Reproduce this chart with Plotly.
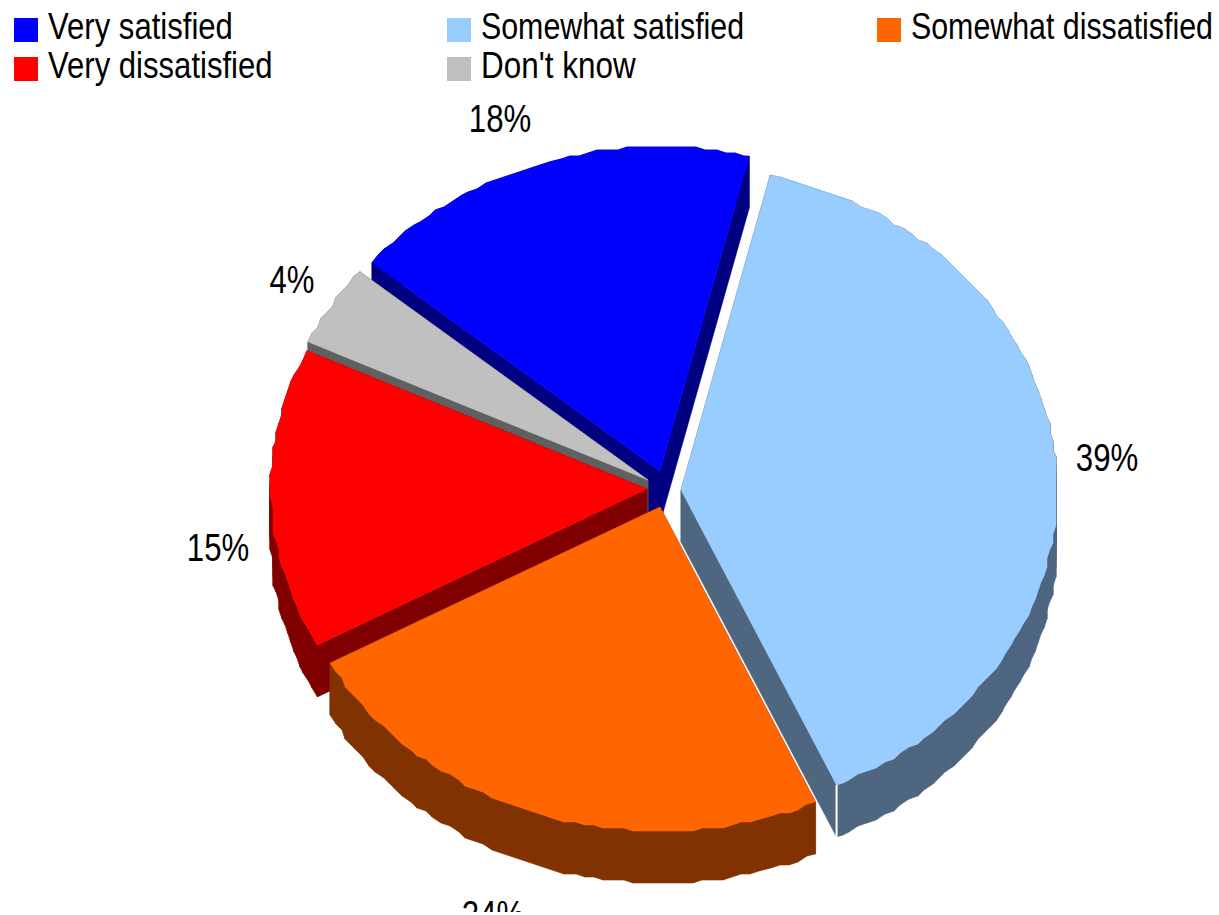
import numpy as np
import plotly.graph_objects as go

categories = ["Very satisfied", "Somewhat satisfied", "Somewhat dissatisfied", "Very dissatisfied", "Don't know"]
values = [17.7, 39.4, 23.8, 15.0, 4.1]

top_colors = ["#0000FF", "#99CCFF", "#FF6600", "#FF0000", "#C0C0C0"]
side_colors = ["#000080", "#4F6680", "#803300", "#800000", "#606060"]
apexes = {"Very satisfied": (660, 471), "Somewhat satisfied": (681, 490), "Somewhat dissatisfied": (660, 507),
          "Very dissatisfied": (647, 489), "Don't know": (648, 480)}
label_pos = {"Very satisfied": (500, 122), "Somewhat satisfied": (1107, 461), "Somewhat dissatisfied": (493, 918),
             "Very dissatisfied": (218, 551), "Don't know": (292, 283)}
legend_pos = {"Very satisfied": (14, 18), "Somewhat satisfied": (447, 18), "Somewhat dissatisfied": (877, 18),
              "Very dissatisfied": (14, 57), "Don't know": (447, 57)}

RX, RY, DEPTH, START, GRID = 376, 324, 52, -50.0, 3.0
FONT = "Liberation Sans, Arial, sans-serif"

# start angle of each slice, clockwise from the top, walking from "Very satisfied"
fractions = np.array(values) / sum(values) * 360
starts = START + np.concatenate([[0], np.cumsum(fractions)[:-1]])


def arc(cx, cy, a0, a1):
    t = np.radians(np.arange(a0, a1, 1.5).tolist() + [a1])
    x = cx + RX * np.sin(t)
    y = cy - RY * np.cos(t)
    rx = np.round(x / GRID) * GRID
    ry = np.round(y / GRID) * GRID
    rx[0], ry[0], rx[-1], ry[-1] = x[0], y[0], x[-1], y[-1]
    return rx, ry


fig = go.Figure()
draw_order = ["Very satisfied", "Don't know", "Very dissatisfied", "Somewhat satisfied", "Somewhat dissatisfied"]
for name in draw_order:
    i = categories.index(name)
    cx, cy = apexes[name]
    ax, ay = arc(cx, cy, starts[i], starts[i] + fractions[i])
    xs = np.concatenate([[cx], ax, [cx]])
    ys = np.concatenate([[cy], ay, [cy]])
    # extruded side: one quad per outline segment, all wound the same way
    qx, qy = [], []
    for k in range(len(xs) - 1):
        px = [xs[k], xs[k + 1], xs[k + 1], xs[k]]
        py = [ys[k], ys[k + 1], ys[k + 1] + DEPTH, ys[k] + DEPTH]
        if xs[k + 1] < xs[k]:
            px, py = px[::-1], py[::-1]
        qx += px + [px[0], None]
        qy += py + [py[0], None]
    fig.add_trace(go.Scatter(x=qx, y=qy, mode="lines", fill="toself", fillcolor=side_colors[i],
                             line=dict(color=side_colors[i], width=0.6), hoverinfo="skip", showlegend=False))
    fig.add_trace(go.Scatter(x=xs, y=ys, mode="lines", fill="toself", fillcolor=top_colors[i],
                             line=dict(color=top_colors[i], width=0.5), name=name, showlegend=False))
    if name == "Somewhat satisfied":
        fig.add_trace(go.Scatter(x=[ax[-1], ax[-1]], y=[ay[-1], ay[-1] + DEPTH + 2], mode="lines",
                                 line=dict(color="#FFFFFF", width=2), hoverinfo="skip", showlegend=False))

# percent labels
fig.add_trace(go.Scatter(x=[label_pos[c][0] for c in categories], y=[label_pos[c][1] for c in categories],
                         text=[f"{round(v)}%" for v in values], mode="text", textposition="middle center",
                         textfont=dict(family=FONT, size=38, color="#000000"), hoverinfo="skip", showlegend=False))
# legend
fig.add_trace(go.Scatter(x=[legend_pos[c][0] + 34 for c in categories], y=[legend_pos[c][1] + 12 for c in categories],
                         text=categories, mode="text", textposition="middle right",
                         textfont=dict(family=FONT, size=37, color="#000000"), hoverinfo="skip", showlegend=False))
shapes = []
for c, col in zip(categories, top_colors):
    lx, ly = legend_pos[c]
    shapes.append(dict(type="rect", xref="x", yref="y", x0=lx, x1=lx + 24, y0=ly, y1=ly + 24,
                       fillcolor=col, line=dict(width=0)))

fig.update_layout(
    width=1219, height=912, autosize=False, margin=dict(l=0, r=0, t=0, b=0),
    paper_bgcolor="#FFFFFF", plot_bgcolor="#FFFFFF", shapes=shapes, showlegend=False,
    xaxis=dict(range=[0, 1219], visible=False, fixedrange=True),
    yaxis=dict(range=[912, 0], visible=False, fixedrange=True),
)
squeeze = """
document.body.style.margin='0';document.body.style.overflow='hidden';
document.querySelectorAll('.textpoint text').forEach(function(t){
  var s = t.textContent, r = /^Very/.test(s) ? 0.84 : (/^Don/.test(s) ? 0.85 : 0.82);
  t.setAttribute('lengthAdjust','spacingAndGlyphs');
  t.setAttribute('textLength', (t.getComputedTextLength()*r).toFixed(1));
});
"""
fig.write_html("out.html", config={"displayModeBar": False}, post_script=squeeze)
